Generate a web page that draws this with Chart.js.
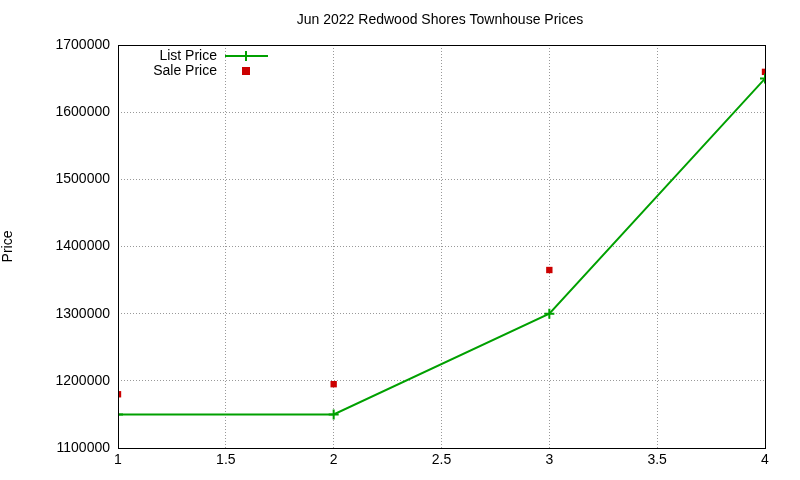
<!DOCTYPE html>
<html><head><meta charset="utf-8">
<script src="https://cdn.jsdelivr.net/npm/chart.js@4"></script>
<style>html,body{margin:0;padding:0;background:#fff}</style>
</head><body><canvas id="c" width="800" height="480"></canvas>
<script>
const listX = [1, 2, 3, 4];
const listPrice = [1150000, 1150000, 1300000, 1650000];
const saleX = [1, 2, 3, 4];
const salePrice = [1180000, 1195000, 1365000, 1660000];
const titleText = 'Jun 2022 Redwood Shores Townhouse Prices';
const FONT = "'Liberation Sans', Arial, sans-serif";
const GREEN = '#00a000', RED = '#cc0000';

const deco = {
  id: 'deco',
  afterDraw(chart) {
    const ctx = chart.ctx, a = chart.chartArea;
    ctx.save();
    ctx.strokeStyle = '#000'; ctx.lineWidth = 1;
    ctx.strokeRect(a.left + 0.5, a.top + 0.5, a.right - a.left, a.bottom - a.top);
    ctx.fillStyle = '#000'; ctx.font = '14px ' + FONT;
    ctx.textAlign = 'center'; ctx.textBaseline = 'middle';
    ctx.fillText(titleText, 440, 20);
    ctx.textAlign = 'right';
    ctx.fillText('List Price', 217, 56);
    ctx.fillText('Sale Price', 217, 71);
    ctx.strokeStyle = GREEN; ctx.lineWidth = 2;
    ctx.beginPath(); ctx.moveTo(225, 56); ctx.lineTo(268, 56);
    ctx.moveTo(246, 51); ctx.lineTo(246, 61); ctx.stroke();
    ctx.fillStyle = RED; ctx.fillRect(242, 67, 8, 8);
    ctx.restore();
  }
};

new Chart(document.getElementById('c'), {
  type: 'scatter',
  data: { datasets: [
    { label: 'List Price', data: listX.map((x, i) => ({x, y: listPrice[i]})), showLine: true,
      borderColor: GREEN, backgroundColor: GREEN, borderWidth: 2, pointStyle: 'cross',
      pointRadius: 5, pointBorderWidth: 2, tension: 0 },
    { label: 'Sale Price', data: saleX.map((x, i) => ({x, y: salePrice[i]})), showLine: false,
      borderColor: RED, backgroundColor: RED, pointStyle: 'rect', pointRadius: 4.5, borderWidth: 0 }
  ]},
  options: {
    responsive: false, animation: false, maintainAspectRatio: false, devicePixelRatio: 1,
    layout: { padding: { top: 45, right: 35, left: 0, bottom: 0 } },
    plugins: { legend: { display: false }, title: { display: false }, tooltip: { enabled: false } },
    scales: {
      x: { type: 'linear', min: 1, max: 4,
        ticks: { stepSize: 0.5, maxRotation: 0, autoSkip: false, color: '#000',
          font: { family: FONT, size: 14 }, padding: 4, callback: v => String(v) },
        grid: { color: '#999', tickLength: 0, drawTicks: false },
        border: { display: false, dash: [1, 2] },
        afterFit(s) { s.height = 32; } },
      y: { min: 1100000, max: 1700000,
        ticks: { stepSize: 100000, color: '#000', font: { family: FONT, size: 14 }, padding: 8,
          callback: v => String(v) },
        grid: { color: '#999', tickLength: 0, drawTicks: false },
        border: { display: false, dash: [1, 2] },
        title: { display: true, text: 'Price', color: '#000', font: { family: FONT, size: 14 }, padding: 0 },
        afterFit(s) { s.width = 118; } }
    }
  },
  plugins: [deco]
});
</script>
</body></html>
